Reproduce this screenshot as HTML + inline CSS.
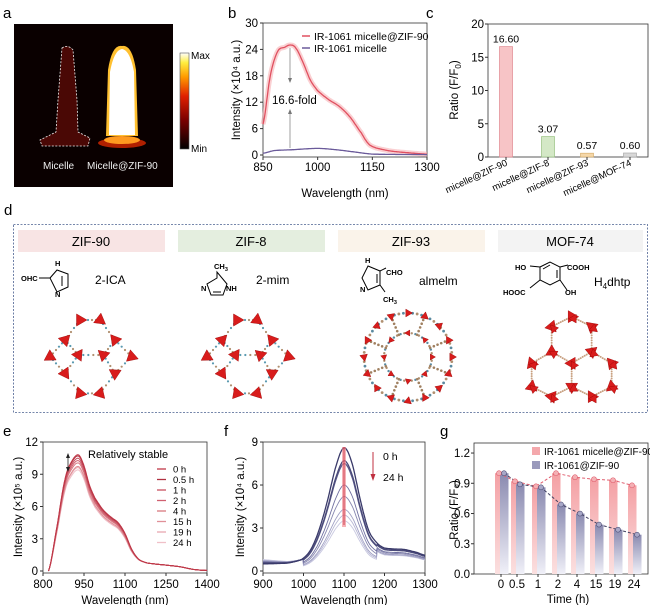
<!DOCTYPE html>
<html><head><meta charset="utf-8"><style>
body{margin:0;background:#fff}
svg{display:block;font-family:"Liberation Sans",sans-serif}
</style></head><body>
<svg id="s" width="650" height="605" viewBox="0 0 650 605" xmlns="http://www.w3.org/2000/svg">
<defs>
<linearGradient id="cb" x1="0" y1="1" x2="0" y2="0">
<stop offset="0" stop-color="#000"/><stop offset="0.3" stop-color="#7a0000"/><stop offset="0.55" stop-color="#e02000"/><stop offset="0.75" stop-color="#ff9a00"/><stop offset="0.9" stop-color="#ffee40"/><stop offset="1" stop-color="#fff"/></linearGradient>
<linearGradient id="pk" x1="0" y1="0" x2="0" y2="1"><stop offset="0" stop-color="#f4a0a4"/><stop offset="1" stop-color="#fbe0e0"/></linearGradient>
<linearGradient id="bl" x1="0" y1="0" x2="0" y2="1"><stop offset="0" stop-color="#8a8ab0"/><stop offset="1" stop-color="#f0f0f8"/></linearGradient>
</defs>
<g font-size="15"><text x="3" y="18">a</text><text x="228" y="18">b</text><text x="426" y="18">c</text><text x="4" y="215">d</text><text x="3" y="436">e</text><text x="224" y="436">f</text><text x="440" y="436">g</text></g>

<!-- a -->
<rect x="14" y="24" width="159" height="163" fill="#0a0000"/>
<path d="M62,48 Q68,44 73,50 L77,100 L78,132 L90,138 L88,146 L42,146 L40,140 L56,132 L58,100 Z" fill="#4a0805"/>
<path d="M62,48 Q68,44 73,50 L77,100 L78,132 L90,138 L88,146 L42,146 L40,140 L56,132 L58,100 Z" fill="none" stroke="#eee" stroke-width="0.8" stroke-dasharray="2,1.5"/>
<ellipse cx="122" cy="143" rx="24" ry="5" fill="#b02000"/>
<ellipse cx="122" cy="140" rx="18" ry="4" fill="#ff9a20"/>
<path d="M106,136 L108,70 Q112,44 122,46 Q132,44 136,70 L138,136 Z" fill="#ffc030"/>
<path d="M109,135 L110,72 Q114,50 122,49 Q130,50 134,72 L135,135 Z" fill="#fff"/>
<g fill="#eee" font-size="10"><text x="43" y="169">Micelle</text><text x="87" y="169">Micelle@ZIF-90</text></g>
<rect x="180" y="53" width="9" height="96" fill="url(#cb)" stroke="#555" stroke-width="0.6"/>
<g font-size="10"><text x="191" y="59">Max</text><text x="191" y="152">Min</text></g>

<g id="plots" font-size="11.5"></g>

<!-- d -->
<rect x="13.5" y="224.5" width="634" height="188" fill="none" stroke="#4a6090" stroke-width="0.8" stroke-dasharray="2,1.5"/>
<rect x="18" y="230" width="147" height="22" fill="#f8e4e4"/>
<rect x="178" y="230" width="147" height="22" fill="#e4eedf"/>
<rect x="338" y="230" width="147" height="22" fill="#faf3ea"/>
<rect x="498" y="230" width="145" height="22" fill="#f3f3f3"/>
<g font-size="13" text-anchor="middle"><text x="91" y="246">ZIF-90</text><text x="251" y="246">ZIF-8</text><text x="411" y="246">ZIF-93</text><text x="570" y="246">MOF-74</text></g>
<g font-size="12"><text x="95" y="284">2-ICA</text><text x="256" y="284">2-mim</text><text x="419" y="285">almelm</text><text x="594" y="286">H<tspan font-size="8" dy="3">4</tspan><tspan dy="-3">dhtp</tspan></text></g>
<g font-size="7.5" font-weight="bold" stroke="none">
<text x="21" y="281">OHC</text><text x="55" y="266">H</text><text x="55" y="297">N</text>
<text x="214" y="269">CH<tspan font-size="5.5" dy="2">3</tspan></text><text x="201" y="291">N</text><text x="226" y="291">NH</text>
<text x="365" y="263">H</text><text x="386" y="275">CHO</text><text x="360" y="292">N</text><text x="383" y="302">CH<tspan font-size="5.5" dy="2">3</tspan></text>
<text x="515" y="270">HO</text><text x="567" y="270">COOH</text><text x="503" y="295">HOOC</text><text x="565" y="295">OH</text>
</g>
<g fill="none" stroke="#000" stroke-width="1">
<path d="M39,278 L50,278 M50,278 L57,270 L68,274 L68,287 L57,292 Z M62,276 L62,286"/>
<path d="M217,272 L217,278 L207,284 L211,295 L223,295 L227,284 Z M213,292 L221,292"/>
<path d="M368,266 L380,271 L380,285 L368,290 L362,278 Z M380,271 L386,268 M380,285 L385,292 M377,274 L377,283"/>
<path d="M540,267 L550,262 L560,267 L560,280 L550,285 L540,280 Z M530,266 L540,267 M560,267 L568,265 M540,280 L530,288 M560,280 L567,290 M543,269 L550,265 M557,270 L557,278"/>
</g>
<g id="fw"></g>

<g font-size="11.5">
<text x="458" y="90" transform="rotate(-90 458 90)" text-anchor="middle">Ratio (F/F<tspan font-size="8" dy="3">0</tspan><tspan dy="-3">)</tspan></text>
</g>
</svg>
<script>
var NS="http://www.w3.org/2000/svg",P=document.getElementById('plots'),F=document.getElementById('fw');
function el(p,t,a,txt){var e=document.createElementNS(NS,t);for(var k in a)e.setAttribute(k,a[k]);if(txt!=null)e.textContent=txt;p.appendChild(e);return e;}
function interp(pts,x){var n=pts.length;for(var i=0;i<n-1;i++){if(x>=pts[i][0]&&x<=pts[i+1][0]){var t=(x-pts[i][0])/(pts[i+1][0]-pts[i][0]);var p0=pts[Math.max(0,i-1)][1],p1=pts[i][1],p2=pts[i+1][1],p3=pts[Math.min(n-1,i+2)][1];var t2=t*t,t3=t2*t;return 0.5*((2*p1)+(-p0+p2)*t+(2*p0-5*p1+4*p2-p3)*t2+(-p0+3*p1-3*p2+p3)*t3);}}return pts[n-1][1];}
function curve(pts,x0,x1,fx,fy,col,w,op,scale){var d="";for(var x=x0;x<=x1;x+=2){var v=Math.max(0,scale(x,interp(pts,x)));d+=(d?"L":"M")+fx(x).toFixed(1)+","+fy(v).toFixed(1);}el(P,'path',{d:d,fill:'none',stroke:col,'stroke-width':w,opacity:op});}
function frame(x0,y0,x1,y1){el(P,'rect',{x:x0,y:y0,width:x1-x0,height:y1-y0,fill:'none',stroke:'#333','stroke-width':0.8});}
(function(){var fx=function(n){return 263+(n-850)*164/450},fy=function(v){return 155-v*4.4};
frame(263,23,427,157);
[0,6,12,18,24,30].forEach(function(v){el(P,'line',{x1:260,x2:263,y1:fy(v),y2:fy(v),stroke:'#333'});el(P,'text',{x:258,y:fy(v)+4,'text-anchor':'end'},v)});
[850,1000,1150,1300].forEach(function(n){el(P,'line',{x1:fx(n),x2:fx(n),y1:157,y2:160,stroke:'#333'});el(P,'text',{x:fx(n),y:171,'text-anchor':'middle'},n)});
el(P,'text',{x:345,y:197,'text-anchor':'middle'},'Wavelength (nm)');
el(P,'text',{x:240,y:90,'text-anchor':'middle',transform:'rotate(-90 240 90)'},'Intensity (×10⁴ a.u.)');
var r=[[850,7],[870,18],[890,23.5],[910,24.5],[925,25],[940,24.3],[960,21],[980,17],[1000,14.6],[1030,12.6],[1060,11],[1090,8.5],[1120,5],[1140,2.5],[1160,1.6],[1200,0.9],[1250,0.5],[1300,0.2]];
curve(r,850,1300,fx,fy,'#f6b0b4',5,0.6,function(x,v){return v});
curve(r,850,1300,fx,fy,'#e05060',1.3,1,function(x,v){return v});
var p=[[850,0.4],[880,1.0],[930,1.2],[1000,1.5],[1050,1.2],[1100,0.7],[1150,0.2],[1300,0.1]];
curve(p,850,1300,fx,fy,'#6a5a9a',1.3,1,function(x,v){return v});
el(P,'line',{x1:290,x2:290,y1:48,y2:82,stroke:'#777','stroke-width':0.7});el(P,'path',{d:'M288,78 L290,83 L292,78Z',fill:'#777'});
el(P,'line',{x1:290,x2:290,y1:148,y2:110,stroke:'#777','stroke-width':0.7});el(P,'path',{d:'M288,114 L290,109 L292,114Z',fill:'#777'});
el(P,'text',{x:272,y:104},'16.6-fold');
el(P,'line',{x1:302,x2:310,y1:36,y2:36,stroke:'#e05060','stroke-width':1.5});el(P,'text',{x:314,y:40,'font-size':10.5},'IR-1061 micelle@ZIF-90');
el(P,'line',{x1:302,x2:310,y1:48,y2:48,stroke:'#6a5a9a','stroke-width':1.5});el(P,'text',{x:314,y:52,'font-size':10.5},'IR-1061 micelle');
})();
(function(){var fy=function(v){return 157-v*6.65};
frame(488,24,648,157);
[0,5,10,15,20].forEach(function(v){el(P,'line',{x1:485,x2:488,y1:fy(v),y2:fy(v),stroke:'#333'});el(P,'text',{x:484,y:fy(v)+4,'text-anchor':'end'},v)});
var d=[[506,16.6,'#f7c4c6','#e08890','16.60','micelle@ZIF-90'],[548,3.07,'#d4e8c6','#98c080','3.07','micelle@ZIF-8'],[587,0.57,'#f5d7a8','#d8b070','0.57','micelle@ZIF-93'],[630,0.60,'#d8d8d8','#aaa','0.60','micelle@MOF-74']];
d.forEach(function(b){el(P,'rect',{x:b[0]-6.5,y:fy(b[1]),width:13,height:157-fy(b[1]),fill:b[2],stroke:b[3],'stroke-width':0.7});el(P,'text',{x:b[0],y:fy(b[1])-4,'text-anchor':'middle','font-size':10.5},b[4]);el(P,'text',{x:b[0]+2,y:165,'text-anchor':'end','font-size':9.5,transform:'rotate(-25 '+(b[0]+2)+' 165)'},b[5]);el(P,'line',{x1:b[0],x2:b[0],y1:157,y2:160,stroke:'#333'});});
})();
(function(){var fx=function(n){return 43+(n-800)*164/600},fy=function(v){return 571-v*10.75};
frame(43,442,207,573);
[0,3,6,9,12].forEach(function(v){el(P,'line',{x1:40,x2:43,y1:fy(v),y2:fy(v),stroke:'#333'});el(P,'text',{x:38,y:fy(v)+4,'text-anchor':'end'},v)});
[800,950,1100,1250,1400].forEach(function(n){el(P,'line',{x1:fx(n),x2:fx(n),y1:573,y2:576,stroke:'#333'});el(P,'text',{x:fx(n),y:588,'text-anchor':'middle'},n)});
el(P,'text',{x:125,y:604,'text-anchor':'middle'},'Wavelength (nm)');
el(P,'text',{x:22,y:507,'text-anchor':'middle',transform:'rotate(-90 22 507)'},'Intensity (×10⁵ a.u.)');
var c=[[820,0],[850,4],[880,8.5],[905,10.2],[930,10.8],[950,9.8],[970,8],[990,6.8],[1020,5.7],[1050,5],[1075,4.5],[1100,3.5],[1125,2],[1150,1.1],[1180,0.75],[1250,0.55],[1300,0.4],[1350,0.15],[1400,0.05]];
var cols=['#c03848','#b03040','#c85060','#d06070','#d87880','#e09098','#e8a8b0','#f0c0c8'],sc=[1,0.99,0.97,0.95,0.93,0.9,0.89,0.87];
for(var i=7;i>=0;i--)(function(i){curve(c,820,1400,fx,fy,cols[i],1,1,function(x,v){var k=x<1120?sc[i]:1-(1-sc[i])*Math.max(0,(1170-x)/50);return v*k;});})(i);
el(P,'line',{x1:68,x2:68,y1:455,y2:470,stroke:'#222','stroke-width':0.8});el(P,'path',{d:'M66,458 L68,453 L70,458Z M66,467 L68,472 L70,467Z',fill:'#222'});
el(P,'text',{x:88,y:458,'font-size':11},'Relatively stable');
['0 h','0.5 h','1 h','2 h','4 h','15 h','19 h','24 h'].forEach(function(t,i){var y=469+i*10.5;el(P,'line',{x1:157,x2:166,y1:y,y2:y,stroke:cols[i],'stroke-width':1.3});el(P,'text',{x:173,y:y+3.5,'font-size':9.5},t)});
})();
(function(){var fx=function(n){return 263+(n-900)*162/400},fy=function(v){return 571-v*14.33};
frame(263,442,425,573);
[0,3,6,9].forEach(function(v){el(P,'line',{x1:260,x2:263,y1:fy(v),y2:fy(v),stroke:'#333'});el(P,'text',{x:258,y:fy(v)+4,'text-anchor':'end'},v)});
[900,1000,1100,1200,1300].forEach(function(n){el(P,'line',{x1:fx(n),x2:fx(n),y1:573,y2:576,stroke:'#333'});el(P,'text',{x:fx(n),y:588,'text-anchor':'middle'},n)});
el(P,'text',{x:344,y:604,'text-anchor':'middle'},'Wavelength (nm)');
el(P,'text',{x:244,y:507,'text-anchor':'middle',transform:'rotate(-90 244 507)'},'Intensity (×10⁴ a.u.)');
var c=[[900,0.5],[960,0.55],[985,0.7],[1000,0.9],[1020,1.6],[1040,3],[1060,5],[1080,7.3],[1100,8.6],[1120,7.5],[1140,5],[1160,2.9],[1180,2],[1200,1.6],[1250,1.5],[1280,1.3],[1300,1.1]];
var pk=[8.6,7.7,7.5,6.0,5.2,4.3,3.9,3.5],cols=['#3a3a6a','#4a4a7a','#5a5a88','#7070a0','#8888b0','#a0a0c4','#b8b8d4','#c8c8e0'];
for(var i=7;i>=0;i--)(function(i){var k=pk[i]/8.6;curve(c,900,1300,fx,fy,cols[i],i<3?1.3:0.9,1,function(x,v){if(x<1000){return v+0.3*i/7*(1000-x)/100;}var kk=x>1180?0.55+0.45*Math.pow(k,1.2):k;return v*kk;});})(i);
el(P,'rect',{x:342,y:447,width:4,height:80,fill:'#f08088',opacity:0.6});
el(P,'line',{x1:344,x2:344,y1:447,y2:525,stroke:'#d04050','stroke-width':1});
el(P,'line',{x1:373,x2:373,y1:452,y2:478,stroke:'#c03040','stroke-width':1});el(P,'path',{d:'M370.5,474 L373,481 L375.5,474Z',fill:'#c03040'});
el(P,'text',{x:383,y:460,'font-size':10.5},'0 h');el(P,'text',{x:383,y:481,'font-size':10.5},'24 h');
})();
(function(){var fy=function(v){return 574-v*100.8};
frame(474,443,648,574);
[0,0.3,0.6,0.9,1.2].forEach(function(v){el(P,'line',{x1:471,x2:474,y1:fy(v),y2:fy(v),stroke:'#333'});el(P,'text',{x:470,y:fy(v)+4,'text-anchor':'end'},v.toFixed(1))});
var X=[501,517,538,558,577,596,615,634],L=['0','0.5','1','2','4','15','19','24'];
var a=[1.0,0.92,0.87,1.0,0.96,0.94,0.93,0.88],b=[1.0,0.89,0.86,0.69,0.6,0.49,0.44,0.39];
X.forEach(function(x,i){el(P,'rect',{x:x-6,y:fy(a[i]),width:8.5,height:574-fy(a[i]),fill:'url(#pk)'});el(P,'rect',{x:x-1,y:fy(b[i]),width:8.5,height:574-fy(b[i]),fill:'url(#bl)'});el(P,'text',{x:x,y:588,'text-anchor':'middle'},L[i]);el(P,'line',{x1:x,x2:x,y1:574,y2:577,stroke:'#333'});});
var pa="",pb="";X.forEach(function(x,i){pa+=(i?"L":"M")+(x-2)+","+fy(a[i]);pb+=(i?"L":"M")+(x+3)+","+fy(b[i]);});
el(P,'path',{d:pa,fill:'none',stroke:'#e06070','stroke-dasharray':'3,2','stroke-width':1});
el(P,'path',{d:pb,fill:'none',stroke:'#404060','stroke-dasharray':'3,2','stroke-width':1});
X.forEach(function(x,i){el(P,'circle',{cx:x-2,cy:fy(a[i]),r:2.5,fill:'#f4b0b4',stroke:'#e06070','stroke-width':0.6});el(P,'circle',{cx:x+3,cy:fy(b[i]),r:2.5,fill:'#a8a8c8',stroke:'#505078','stroke-width':0.6});});
el(P,'text',{x:568,y:603,'text-anchor':'middle'},'Time (h)');
el(P,'text',{x:458,y:510,'text-anchor':'middle',transform:'rotate(-90 458 510)'},'Ratio (F/F₀)');
el(P,'rect',{x:532,y:447,width:8,height:8,fill:'#f4a8ac'});el(P,'text',{x:544,y:455,'font-size':10},'IR-1061 micelle@ZIF-90');
el(P,'rect',{x:532,y:461,width:8,height:8,fill:'#9a9abc'});el(P,'text',{x:544,y:469,'font-size':10},'IR-1061@ZIF-90');
})();
function tri(x,y,s,rot){var a=rot*Math.PI/180,d="";for(var k=0;k<3;k++){var t=a+k*2*Math.PI/3;d+=(k?"L":"M")+(x+s*Math.cos(t)).toFixed(1)+","+(y+s*Math.sin(t)).toFixed(1);}el(F,'path',{d:d+"Z",fill:'#d81c1c',stroke:'#900','stroke-width':0.4});}
function dots(x1,y1,x2,y2){for(var t=0.2;t<0.85;t+=0.2){el(F,'circle',{cx:x1+(x2-x1)*t,cy:y1+(y2-y1)*t,r:1.1,fill:t>0.5?'#b09070':'#5a9ab0'});}}
var zp=[[240,360],[300,360],[195,420],[345,420],[150,470],[235,465],[310,465],[395,470],[195,520],[345,520],[240,580],[300,580]];
var ed=[[0,1],[0,2],[1,3],[2,4],[2,5],[3,6],[3,7],[4,8],[5,8],[6,9],[7,9],[8,10],[9,11],[10,11],[5,6]];
[0,157].forEach(function(off){var pts=zp.map(function(p){return [p[0]/3+off,200+p[1]/3]});ed.forEach(function(e){dots(pts[e[0]][0],pts[e[0]][1],pts[e[1]][0],pts[e[1]][1])});pts.forEach(function(p,i){tri(p[0],p[1],7,i*37)});});
(function(){var cx=408,cy=357;
for(var i=0;i<60;i++){var t=i*2*Math.PI/60;el(F,'circle',{cx:cx+44*Math.cos(t),cy:cy+44*Math.sin(t),r:1.4,fill:i%2?'#b09070':'#5a8aa0'});}
for(var i=0;i<40;i++){var t=i*2*Math.PI/40;el(F,'circle',{cx:cx+24*Math.cos(t),cy:cy+24*Math.sin(t),r:1.2,fill:i%2?'#b09070':'#5a8aa0'});}
for(var i=0;i<8;i++){var t=i*Math.PI/4+0.39;for(var r=24;r<=44;r+=4)el(F,'circle',{cx:cx+r*Math.cos(t),cy:cy+r*Math.sin(t),r:1.3,fill:'#a08060'});}
for(var i=0;i<16;i++){var t=i*2*Math.PI/16;tri(cx+44*Math.cos(t),cy+44*Math.sin(t),4.5,i*40);}
for(var i=0;i<8;i++){var t=i*2*Math.PI/8;tri(cx+24*Math.cos(t),cy+24*Math.sin(t),3.5,i*50);}})();
(function(){var mp=[[740,350],[680,380],[800,380],[680,455],[800,455],[620,490],[740,490],[860,490],[620,560],[740,560],[860,560],[680,590],[800,590]];
var pts=mp.map(function(p){return [325+p[0]/3,200+p[1]/3]});
var e=[[0,1],[0,2],[1,3],[2,4],[3,5],[3,6],[4,6],[4,7],[5,8],[6,9],[7,10],[8,11],[9,11],[9,12],[10,12]];
e.forEach(function(q){var a=pts[q[0]],b=pts[q[1]];for(var t=0.15;t<0.9;t+=0.1)el(F,'circle',{cx:a[0]+(b[0]-a[0])*t,cy:a[1]+(b[1]-a[1])*t,r:1,fill:'#c8a080'});});
pts.forEach(function(p,i){tri(p[0],p[1],7,i*50);tri(p[0]+2,p[1]+2,5,i*50+60);});})();
</script>
</body></html>
